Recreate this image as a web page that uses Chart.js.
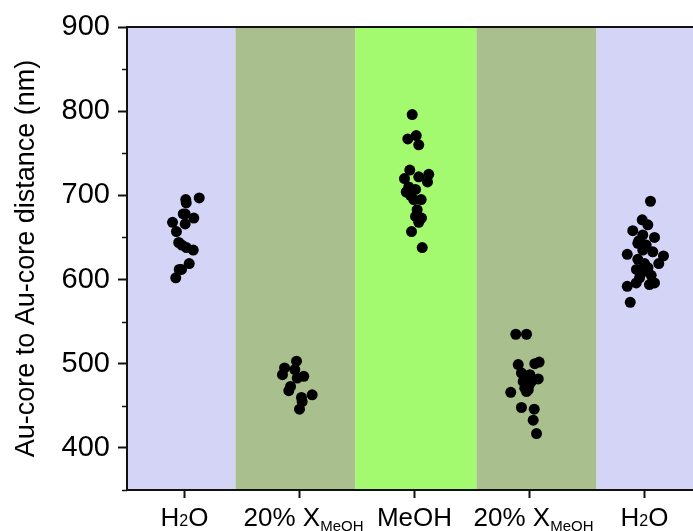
<!DOCTYPE html>
<html><head><meta charset="utf-8">
<script src="https://cdn.jsdelivr.net/npm/chart.js@4"></script>
<style>html,body{margin:0;padding:0;background:#fff;overflow:hidden;}</style>
</head><body>
<canvas id="c" width="693" height="531" style="display:block;width:693px;height:531px"></canvas>
<script>
// ---- data ----
const categoryPositions = [1, 2, 3, 4, 5];
const tickLabels = ['H_{2}O', '20% X_{MeOH}', 'MeOH', '20% X_{MeOH}', 'H_{2}O'];
const yTickValues = [400, 500, 600, 700, 800, 900];
const bandEdges = [0.5, 1.443, 2.487, 3.539, 4.583, 6];
const bandColors = ['#d4d4f7', '#a9c08e', '#a4fa6f', '#a9c08e', '#d4d4f7'];

const h2oFirstX = [1.011, 1.128, 1.015, 1.006, 0.989, 1.081, 1.006, 0.896, 0.930, 0.950, 0.977, 1.017, 1.076, 1.041, 0.954, 0.924, 0.974];
const h2oFirstY = [695, 697, 691, 678, 678, 673, 666, 668, 657, 644, 641, 638, 635, 619, 612, 602, 612];

const mixFirstX = [1.974, 1.870, 1.959, 1.852, 1.980, 2.037, 1.922, 1.907, 2.017, 2.110, 2.023, 2.000];
const mixFirstY = [503, 495, 493, 487, 483, 485, 473, 468, 460, 463, 455, 446];

const meohX = [2.980, 2.942, 3.015, 3.037, 2.959, 2.913, 3.037, 3.124, 3.113, 2.950, 2.928, 3.009, 2.965, 2.994, 3.058, 3.023, 3.009, 3.061, 3.037, 2.974, 3.067];
const meohY = [796, 767, 771, 760, 730, 720, 722, 725, 716, 710, 704, 707, 700, 695, 695, 683, 675, 673, 668, 657, 638];

const mixSecondX = [3.881, 3.974, 3.902, 4.046, 4.084, 3.930, 4.003, 3.974, 4.076, 4.017, 3.959, 3.989, 3.974, 3.837, 3.930, 4.041, 4.032, 4.061, 3.945, 3.998];
const mixSecondY = [535, 535, 499, 500, 502, 489, 487, 483, 482, 479, 471, 469, 467, 466, 448, 446, 433, 417, 479, 475];

const h2oSecondX = [5.052, 4.980, 5.029, 4.898, 5.087, 4.985, 4.942, 5.015, 5.072, 4.985, 4.850, 4.942, 5.165, 5.124, 5.000, 4.985, 5.058, 4.957, 5.087, 5.043, 4.928, 4.850, 4.876, 4.950, 5.030, 4.930];
const h2oSecondY = [693, 671, 665, 658, 650, 653, 643, 641, 633, 635, 630, 624, 628, 619, 619, 609, 605, 602, 596, 594, 596, 592, 573, 646, 614, 612];

// ---- helpers ----
function pts(xs, ys) { return xs.map((x, i) => ({ x: x, y: ys[i] })); }
const FONT = '"Liberation Sans", Arial, Helvetica, sans-serif';

function drawRich(ctx, label, cx, baseline) {
  const segs = [];
  const re = /_\{([^}]*)\}/g;
  let last = 0, m;
  while ((m = re.exec(label)) !== null) {
    if (m.index > last) segs.push({ t: label.slice(last, m.index), sub: false });
    segs.push({ t: m[1], sub: true });
    last = m.index + m[0].length;
  }
  if (last < label.length) segs.push({ t: label.slice(last), sub: false });
  const mainFont = '26px ' + FONT;
  const subFont = (s) => (s.t.length === 1 ? '16px ' : '15px ') + FONT;
  let total = 0;
  segs.forEach(s => { ctx.font = s.sub ? subFont(s) : mainFont; s.w = ctx.measureText(s.t).width; total += s.w; });
  let x = cx - total / 2 + (segs.length > 1 && segs[segs.length - 1].sub ? 4 : 0);
  ctx.fillStyle = '#000';
  ctx.textAlign = 'left';
  ctx.textBaseline = 'alphabetic';
  segs.forEach(s => {
    ctx.font = s.sub ? subFont(s) : mainFont;
    const off = s.sub ? (s.t.length === 1 ? 0 : 5) : 0;
    ctx.fillText(s.t, x, baseline + off);
    x += s.w;
  });
}

const decorPlugin = {
  id: 'decor',
  beforeDraw(chart) {
    const { ctx, chartArea: a, scales: { x } } = chart;
    ctx.save();
    ctx.beginPath();
    ctx.rect(a.left, a.top, chart.width - a.left, a.bottom - a.top);
    ctx.clip();
    for (let i = 0; i < bandColors.length; i++) {
      const x0 = x.getPixelForValue(bandEdges[i]);
      const x1 = x.getPixelForValue(bandEdges[i + 1]);
      ctx.fillStyle = bandColors[i];
      ctx.fillRect(x0, a.top, x1 - x0, a.bottom - a.top);
    }
    ctx.restore();
  },
  afterDraw(chart) {
    const { ctx, chartArea: a, scales: { x, y } } = chart;
    ctx.save();
    ctx.strokeStyle = '#111';
    ctx.lineWidth = 2;
    // top frame line
    ctx.beginPath();
    ctx.moveTo(a.left - 1, a.top);
    ctx.lineTo(chart.width, a.top);
    ctx.stroke();
    // continue bottom axis line to the edge
    ctx.beginPath();
    ctx.moveTo(a.right - 1, a.bottom);
    ctx.lineTo(chart.width, a.bottom);
    ctx.stroke();
    // minor y ticks
    ctx.lineWidth = 1.5;
    for (let v = y.min; v <= y.max; v += 50) {
      if (v % 100 === 0) continue;
      const py = Math.round(y.getPixelForValue(v)) + 0.5;
      ctx.beginPath();
      ctx.moveTo(a.left - 5, py);
      ctx.lineTo(a.left, py);
      ctx.stroke();
    }
    // x category labels (with subscripts)
    categoryPositions.forEach((p, i) => {
      drawRich(ctx, tickLabels[i], x.getPixelForValue(p), 526);
    });
    ctx.restore();
  }
};

const groups = [[h2oFirstX, h2oFirstY], [mixFirstX, mixFirstY], [meohX, meohY], [mixSecondX, mixSecondY], [h2oSecondX, h2oSecondY]];

new Chart(document.getElementById('c'), {
  type: 'scatter',
  data: {
    datasets: groups.map(g => ({
      data: pts(g[0], g[1]),
      backgroundColor: '#000',
      borderWidth: 0,
      pointRadius: 5.5,
      pointHoverRadius: 5.5
    }))
  },
  options: {
    responsive: false,
    animation: false,
    devicePixelRatio: 1,
    layout: { padding: { top: 27, right: 0, bottom: 33, left: 0 } },
    plugins: { legend: { display: false }, tooltip: { enabled: false } },
    scales: {
      x: {
        type: 'linear',
        min: 0.5,
        max: 0.5 + 560.5 / 115,
        afterBuildTicks: (s) => { s.ticks = categoryPositions.map(v => ({ value: v })); },
        ticks: { display: false },
        grid: { drawOnChartArea: false, drawTicks: true, tickLength: 8, tickColor: '#111', tickWidth: 2 },
        border: { display: true, color: '#111', width: 2 }
      },
      y: {
        min: 350,
        max: 900,
        afterBuildTicks: (s) => { s.ticks = yTickValues.map(v => ({ value: v })); },
        afterFit: (s) => { s.width = 127; },
        ticks: { color: '#000', padding: 8, font: { family: FONT, size: 29 } },
        grid: { drawOnChartArea: false, drawTicks: true, tickLength: 9, tickColor: '#111', tickWidth: 2 },
        border: { display: true, color: '#111', width: 2 },
        title: {
          display: true,
          text: 'Au-core to Au-core distance (nm)',
          color: '#000',
          font: { family: FONT, size: 27 },
          padding: { top: 10, bottom: 0 }
        }
      }
    }
  },
  plugins: [decorPlugin]
});
</script>
</body></html>
